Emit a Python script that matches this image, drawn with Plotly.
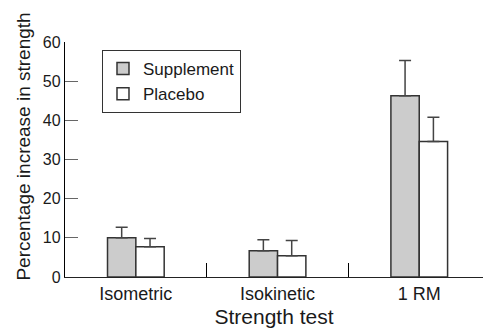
import plotly.graph_objects as go

categories = ["Isometric", "Isokinetic", "1 RM"]
supplement = [10.0, 6.7, 46.3]
supplement_err = [2.7, 2.8, 9.0]
placebo = [7.75, 5.4, 34.6]
placebo_err = [2.05, 3.9, 6.2]
y_ticks = [0, 10, 20, 30, 40, 50, 60]

FONT = "Liberation Sans, Arial, sans-serif"
TXT = "#1a1a1a"

fig = go.Figure()
fig.add_trace(go.Bar(
    name="Supplement", x=categories, y=supplement,
    marker=dict(color="#cccccc", line=dict(color="#333333", width=1.5)),
    error_y=dict(type="data", array=supplement_err, arrayminus=[0, 0, 0],
                 symmetric=False, color="#444444", thickness=1.5, width=6),
))
fig.add_trace(go.Bar(
    name="Placebo", x=categories, y=placebo,
    marker=dict(color="#ffffff", line=dict(color="#333333", width=1.5)),
    error_y=dict(type="data", array=placebo_err, arrayminus=[0, 0, 0],
                 symmetric=False, color="#444444", thickness=1.5, width=6),
))

fig.update_layout(
    width=483, height=328,
    margin=dict(l=65, r=0, t=42, b=51),
    paper_bgcolor="white", plot_bgcolor="white",
    barmode="group", bargap=0.6, bargroupgap=0,
    font=dict(family=FONT, color=TXT, size=18),
    showlegend=True,
    legend=dict(
        x=0.0885, y=0.966, xanchor="left", yanchor="top",
        bordercolor="#333333", borderwidth=1, bgcolor="white",
        font=dict(size=17, family=FONT, color=TXT),
        itemwidth=30, tracegroupgap=0,
    ),
    xaxis=dict(
        type="category", range=[-0.5, 2.45],
        showline=True, linecolor="#222222", linewidth=1.3,
        ticks="inside", tickson="boundaries", ticklen=14,
        tickcolor="#000000", tickwidth=1.3,
        tickfont=dict(size=18, family=FONT, color=TXT),
        title=dict(text="Strength test", font=dict(size=21, family=FONT, color=TXT), standoff=8),
        showgrid=False, zeroline=False,
    ),
    yaxis=dict(
        range=[0, 60], tickvals=y_ticks,
        showline=True, linecolor="#000000", linewidth=1.3,
        ticks="inside", ticklen=13, tickcolor="#666666", tickwidth=1.3,
        tickfont=dict(size=16, family=FONT, color=TXT),
        showgrid=False, zeroline=False,
    ),
    annotations=[dict(
        text="Percentage increase in strength", textangle=-90,
        xref="paper", yref="paper", x=-0.098, y=0.555,
        xanchor="center", yanchor="middle", showarrow=False,
        font=dict(size=19, family=FONT, color=TXT),
    )],
)

fig.write_html("out.html", config={"displayModeBar": False},
               post_script="document.body.style.margin='0';")
